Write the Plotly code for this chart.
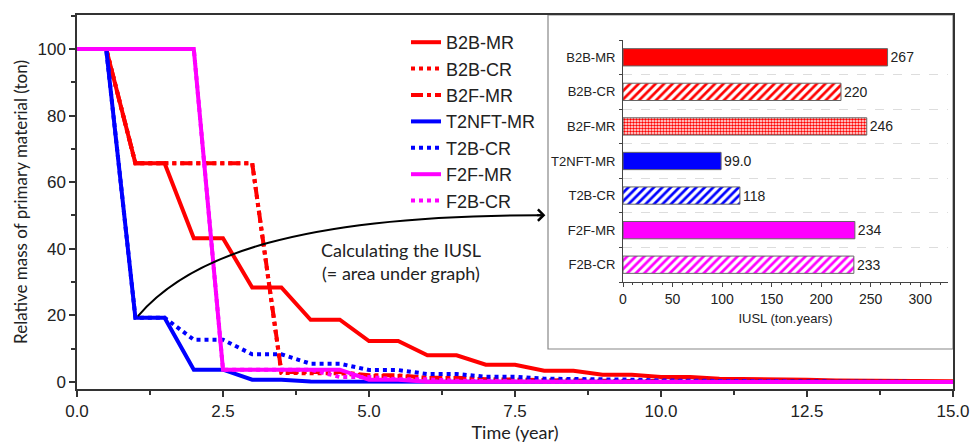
import plotly.graph_objects as go

# ---------------- main chart data ----------------
b2b_mr_x = [0, 0.5, 1, 1.5, 2, 2.5, 3, 3.5, 4, 4.5, 5, 5.5, 6, 6.5, 7, 7.5, 8, 8.5, 9, 9.5,
            10, 10.5, 11, 11.5, 12, 12.5, 13, 13.5, 14, 14.5, 15]
b2b_mr_y = [100, 100, 65.7, 65.7, 43.2, 43.2, 28.4, 28.4, 18.7, 18.7, 12.3, 12.3, 8.0, 8.0,
            5.2, 5.2, 3.4, 3.4, 2.2, 2.2, 1.5, 1.5, 1.0, 1.0, 0.7, 0.7, 0.45, 0.45, 0.3, 0.3, 0.2]

b2b_cr_x = [0, 0.5, 1, 3, 3.5, 4, 4.5, 5, 5.5, 6, 6.5, 7, 7.5, 8, 8.5, 9, 9.5, 10, 11, 12, 13, 14, 15]
b2b_cr_y = [100, 100, 65.7, 65.7, 2.7, 2.7, 2.6, 1.8, 1.8, 1.2, 1.2, 0.8, 0.8, 0.5, 0.5, 0.35,
            0.35, 0.2, 0.1, 0.05, 0, 0, 0]

b2f_mr_x = [0, 0.5, 1, 3, 3.5, 4, 4.5, 5, 5.5, 6, 6.5, 7, 7.5, 8, 9, 10, 11, 12, 13, 14, 15]
b2f_mr_y = [100, 100, 65.7, 65.7, 3.0, 3.0, 3.0, 2.0, 2.0, 1.3, 1.3, 0.85, 0.85, 0.55, 0.35,
            0.2, 0.1, 0.05, 0, 0, 0]

t2nft_mr_x = [0, 0.5, 1, 1.5, 2, 2.5, 3, 3.5, 4, 4.5, 5, 15]
t2nft_mr_y = [100, 100, 19.3, 19.3, 3.7, 3.7, 0.7, 0.7, 0.15, 0.15, 0, 0]

t2b_cr_x = [0, 0.5, 1, 1.5, 2, 2.5, 3, 3.5, 4, 4.5, 5, 5.5, 6, 6.5, 7, 7.5, 8, 8.5, 9, 9.5,
            10, 10.5, 11, 11.5, 12, 13, 14, 15]
t2b_cr_y = [100, 100, 19.3, 19.3, 12.7, 12.7, 8.3, 8.3, 5.5, 5.5, 3.6, 3.6, 2.4, 2.4, 1.6, 1.6,
            1.0, 1.0, 0.7, 0.7, 0.45, 0.45, 0.3, 0.3, 0.2, 0.1, 0.05, 0]

f2f_mr_x = [0, 2, 2.5, 4.5, 5, 5.5, 6, 15]
f2f_mr_y = [100, 100, 3.7, 3.7, 0.7, 0.7, 0.1, 0]

f2b_cr_x = [0, 2, 2.5, 4, 4.5, 5, 5.5, 6, 6.5, 7, 8, 15]
f2b_cr_y = [100, 100, 3.7, 3.7, 1.5, 1.5, 0.8, 0.8, 0.4, 0.3, 0.1, 0]

x_ticks = [0, 2.5, 5, 7.5, 10, 12.5, 15]
x_ticklabels = ["0.0", "2.5", "5.0", "7.5", "10.0", "12.5", "15.0"]
y_ticks = [0, 20, 40, 60, 80, 100]

# ---------------- inset data ----------------
bar_names = ["B2B-MR", "B2B-CR", "B2F-MR", "T2NFT-MR", "T2B-CR", "F2F-MR", "F2B-CR"]
iusl_values = [267, 220, 246, 99.0, 118, 234, 233]
iusl_labels = ["267", "220", "246", "99.0", "118", "234", "233"]
inset_xticks = [0, 50, 100, 150, 200, 250, 300]

RED, BLUE, MAG = "#FF0000", "#0000FF", "#FF00FF"
ARIAL = "Liberation Sans, Arial, sans-serif"
CAL = "Lato, Open Sans, sans-serif"

fig = go.Figure()

series = [
    ("B2B-MR", b2b_mr_x, b2b_mr_y, RED, "solid", 4),
    ("B2B-CR", b2b_cr_x, b2b_cr_y, RED, "dot", 4),
    ("B2F-MR", b2f_mr_x, b2f_mr_y, RED, "dashdot", 4),
    ("T2NFT-MR", t2nft_mr_x, t2nft_mr_y, BLUE, "solid", 4),
    ("T2B-CR", t2b_cr_x, t2b_cr_y, BLUE, "dot", 4),
    ("F2F-MR", f2f_mr_x, f2f_mr_y, MAG, "solid", 4),
    ("F2B-CR", f2b_cr_x, f2b_cr_y, MAG, "dot", 4),
]
for name, xs, ys, col, dash, w in series:
    fig.add_trace(go.Scatter(x=xs, y=ys, mode="lines", name=name,
                             line=dict(color=col, dash=dash, width=w),
                             xaxis="x", yaxis="y"))

# inset bars
pos = list(range(len(bar_names)))
bar_colors = [RED, RED, RED, BLUE, BLUE, MAG, MAG]
shapes_pat = ["", "/", ".", "", "/", "", "/"]
bg_pat = [RED, RED, "white", BLUE, BLUE, MAG, MAG]
fg_pat = [RED, "white", RED, BLUE, "white", MAG, "white"]
size_pat = [6, 6, 3, 6, 6, 6, 6]
sol_pat = [0.45, 0.45, 0.55, 0.45, 0.45, 0.45, 0.45]
fig.add_trace(go.Bar(
    x=iusl_values, y=pos, orientation="h", width=0.5,
    text=iusl_labels, textposition="outside", cliponaxis=False,
    textfont=dict(family=ARIAL, size=14, color="#222"),
    marker=dict(color=bar_colors, line=dict(color="#666", width=1),
                pattern=dict(shape=shapes_pat, bgcolor=bg_pat, fgcolor=fg_pat,
                             size=size_pat, solidity=sol_pat, fillmode="replace")),
    xaxis="x2", yaxis="y2", showlegend=False, hoverinfo="x+y"))

L, R, T, B = 77, 21, 15, 55
W, H = 974, 444
pw, ph = W - L - R, H - T - B

def px_x(p):
    return (p - L) / pw

def px_y(p):
    return (H - B - p) / ph

fig.update_layout(
    width=W, height=H,
    margin=dict(l=L, r=R, t=T, b=B, autoexpand=False),
    paper_bgcolor="white", plot_bgcolor="rgba(0,0,0,0)",
    showlegend=True,
    legend=dict(x=px_x(406), y=px_y(24), xanchor="left", yanchor="top",
                font=dict(family=ARIAL, size=18, color="#222"),
                bgcolor="rgba(0,0,0,0)", tracegroupgap=0, itemwidth=30),
    xaxis=dict(domain=[0, 1], range=[0, 15], tickvals=x_ticks, ticktext=x_ticklabels,
               automargin=False,
               ticks="outside", ticklen=6, tickwidth=1.5, tickcolor="#333",
               minor=dict(dtick=1.25, tick0=0, ticks="outside", ticklen=4, tickcolor="#333"),
               showline=True, linecolor="#333", linewidth=1.5, mirror=True,
               showgrid=False, zeroline=False,
               tickfont=dict(family=ARIAL, size=17, color="#222"),
               title=dict(text="Time (year)", font=dict(family=CAL, size=18, color="#222"),
                          standoff=4)),
    yaxis=dict(domain=[0, 1], range=[-2.1, 110.2], tickvals=y_ticks, automargin=False,
               ticks="outside", ticklen=6, tickwidth=1.5, tickcolor="#333",
               minor=dict(dtick=10, tick0=0, ticks="outside", ticklen=4, tickcolor="#333"),
               showline=True, linecolor="#333", linewidth=1.5, mirror=True,
               showgrid=False, zeroline=False,
               tickfont=dict(family=ARIAL, size=17, color="#222"),
               title=dict(text="Relative mass of primary material (ton)",
                          font=dict(family=CAL, size=17, color="#222"), standoff=6)),
    xaxis2=dict(domain=[px_x(623), px_x(948)], range=[0, 328], anchor="y2", automargin=False,
                tickvals=inset_xticks, ticks="outside", ticklen=4, tickcolor="#444",
                minor=dict(dtick=10, tick0=0, ticks="outside", ticklen=2, tickcolor="#444"),
                showline=True, linecolor="#444", linewidth=1, showgrid=False, zeroline=False,
                tickfont=dict(family=ARIAL, size=14, color="#222"),
                title=dict(text="IUSL (ton.years)", font=dict(family=ARIAL, size=13, color="#222"),
                           standoff=8)),
    yaxis2=dict(domain=[px_y(282), px_y(40)], range=[6.5, -0.5], anchor="x2", automargin=False,
                tickvals=pos, ticktext=bar_names, ticks="", showgrid=False,
                minor=dict(dtick=1, tick0=0.5, ticks="outside", ticklen=3, tickcolor="#444",
                           showgrid=True, gridcolor="#dddddd", griddash="dash", gridwidth=1),
                showline=True, linecolor="#444", linewidth=1, zeroline=False,
                tickfont=dict(family=ARIAL, size=13, color="#222"), ticklabelstandoff=4),
)

# inset frame
fig.add_shape(type="rect", xref="paper", yref="paper",
              x0=px_x(548), x1=px_x(953), y0=px_y(349), y1=px_y(15),
              line=dict(color="#888", width=1.2), fillcolor="white", layer="below")

# curved arrow
fig.add_shape(type="path", xref="x", yref="y",
              path="M 1.044,19.8 C 1.933,38.1 3.815,50.1 7.95,50.1",
              line=dict(color="black", width=2))
fig.add_annotation(x=8.02, y=50.1, ax=7.85, ay=50.1, xref="x", yref="y",
                   axref="x", ayref="y", text="", showarrow=True,
                   arrowhead=4, arrowsize=1.1, arrowwidth=2, arrowcolor="black")
fig.add_annotation(x=(401 - L) / 58.4, y=(382 - 262) / 3.33, xref="x", yref="y",
                   text="Calculating the IUSL<br>(= area under graph)", showarrow=False,
                   font=dict(family=CAL, size=18, color="#222"), align="center")

fig.write_html("out.html", config={"displayModeBar": False},
               post_script="document.body.style.margin='0';document.body.style.overflow='hidden';")
